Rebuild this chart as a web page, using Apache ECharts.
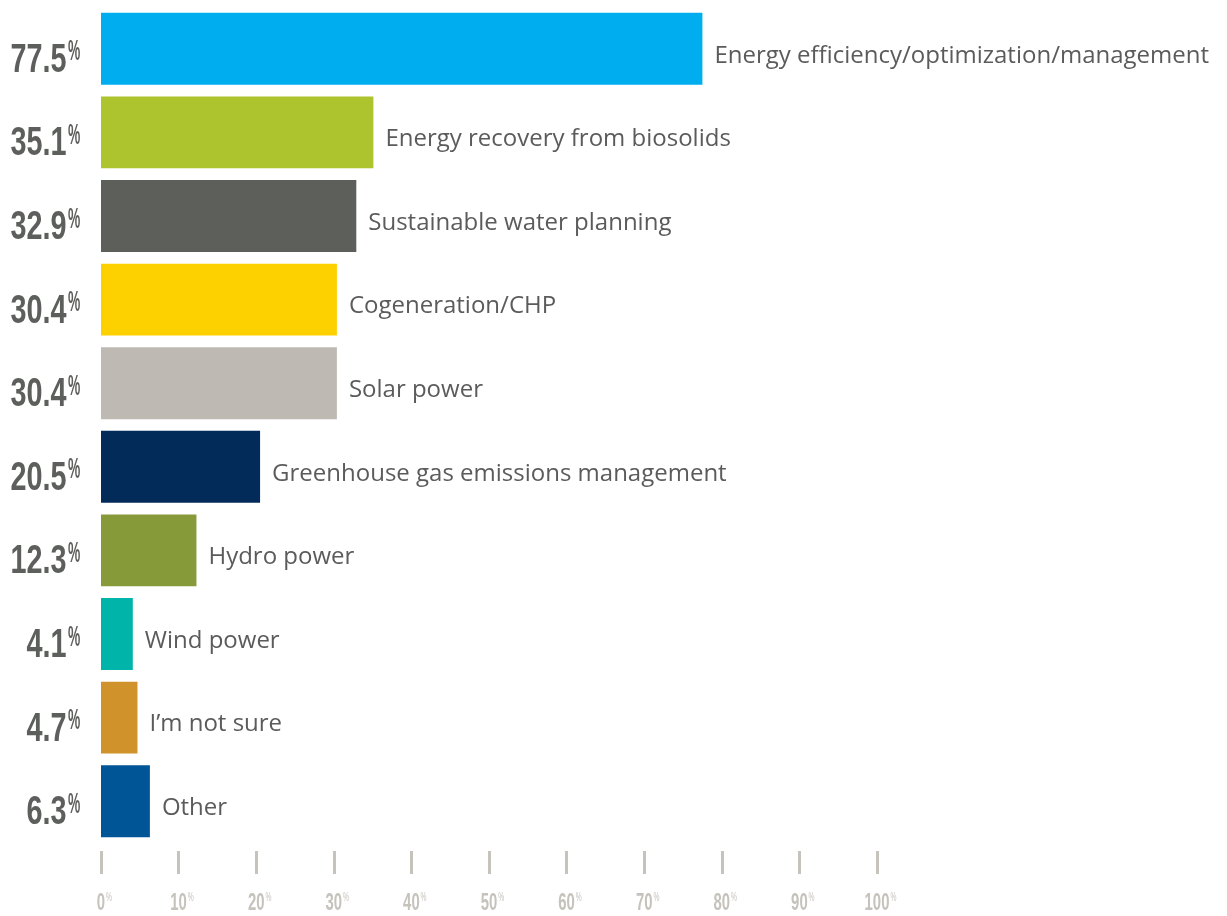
<!DOCTYPE html>
<html>
<head>
<meta charset="utf-8">
<script src="https://cdn.jsdelivr.net/npm/echarts@6/dist/echarts.min.js"></script>
<style>
  html, body { margin: 0; padding: 0; background: #ffffff; }
  #chart { width: 1227px; height: 916px; }
</style>
</head>
<body>
<div id="chart"></div>
<script>
// Survey answers: which energy topics the utility is working on
const categories = [
  'Energy efficiency/optimization/management',
  'Energy recovery from biosolids',
  'Sustainable water planning',
  'Cogeneration/CHP',
  'Solar power',
  'Greenhouse gas emissions management',
  'Hydro power',
  'Wind power',
  'I\u2019m not sure',
  'Other'
];
const shares = [77.5, 35.1, 32.9, 30.4, 30.4, 20.5, 12.3, 4.1, 4.7, 6.3];
const barColors = [
  '#00aeef', '#adc42e', '#5d5f5b', '#fdd100', '#bebab3',
  '#022b5a', '#879a3a', '#00b4aa', '#d0932b', '#005596'
];
const axisTicks = [0, 10, 20, 30, 40, 50, 60, 70, 80, 90, 100];

const sansFont = "'Liberation Sans', Arial, sans-serif";
const textFont = "'Open Sans', 'Noto Sans', sans-serif";
const valueGrey = '#5d5f5c';
const tickGrey = '#c6c3bc';

const chart = echarts.init(document.getElementById('chart'), null, { renderer: 'canvas' });

// Condensed figure: a number with a raised percent sign, squeezed horizontally
function percentFigure(x, y, num, opt) {
  return {
    type: 'group',
    x: x,
    y: y,
    scaleX: opt.squeeze,
    children: [
      {
        type: 'text',
        x: opt.numX,
        y: 0,
        style: {
          text: num,
          fontFamily: sansFont,
          fontWeight: opt.weight,
          fontSize: opt.numSize,
          fill: opt.color,
          align: opt.numAlign,
          verticalAlign: 'middle'
        }
      },
      {
        type: 'text',
        x: opt.pctX,
        y: opt.pctY,
        scaleX: opt.pctSqueeze,
        style: {
          text: '%',
          fontFamily: sansFont,
          fontWeight: opt.pctWeight,
          fontSize: opt.pctSize,
          fill: opt.color,
          align: 'left',
          verticalAlign: 'top'
        }
      }
    ]
  };
}

chart.setOption({
  animation: false,
  backgroundColor: '#ffffff',
  grid: { left: 101, right: 350, top: 7, bottom: 73, containLabel: false, outerBoundsMode: 'none' },
  xAxis: {
    type: 'value',
    min: axisTicks[0],
    max: axisTicks[axisTicks.length - 1],
    interval: 10,
    offset: 8,
    splitLine: { show: false },
    axisLine: { show: false },
    axisTick: { show: true, length: 23, inside: false, lineStyle: { color: tickGrey, width: 3 } },
    axisLabel: { show: false }
  },
  yAxis: {
    type: 'category',
    data: categories,
    inverse: true,
    axisLine: { show: false },
    axisTick: { show: false },
    axisLabel: { show: false }
  },
  series: [
    {
      type: 'bar',
      data: shares.map((v, i) => ({ value: v, itemStyle: { color: barColors[i] } })),
      barCategoryGap: '14%',
      label: {
        show: true,
        position: 'right',
        distance: 12,
        offset: [0, 7],
        formatter: p => categories[p.dataIndex],
        fontFamily: textFont,
        fontSize: 24,
        color: '#5b5b5b'
      }
    },
    {
      // share figures to the left of each bar
      type: 'custom',
      silent: true,
      clip: false,
      encode: { x: 0, y: 1 },
      data: shares.map((v, i) => [0, categories[i], v]),
      renderItem: (params, api) => {
        const pt = api.coord([0, params.dataIndex]);
        return percentFigure(pt[0] - 18, pt[1] + 12, api.value(2).toFixed(1), {
          squeeze: 0.72, weight: 'bold', color: valueGrey,
          numSize: 40, numAlign: 'right', numX: -23,
          pctSize: 29, pctWeight: 'bold', pctSqueeze: 0.66, pctX: -21, pctY: -23
        });
      }
    },
    {
      // tick values under the axis
      type: 'custom',
      silent: true,
      clip: false,
      encode: { x: 0, y: 1 },
      data: axisTicks.map(t => [t, categories[0]]),
      renderItem: (params, api) => {
        const pt = api.coord([api.value(0), 0]);
        const cs = params.coordSys;
        const txt = String(api.value(0));
        return percentFigure(pt[0], cs.y + cs.height + 60, txt, {
          squeeze: 0.62, weight: 'bold', color: tickGrey,
          numSize: 24, numAlign: 'center', numX: 0,
          pctSize: 12, pctWeight: 'normal', pctSqueeze: 0.9, pctX: txt.length * 6.9 + 1, pctY: -11
        });
      }
    }
  ]
});
</script>
</body>
</html>
